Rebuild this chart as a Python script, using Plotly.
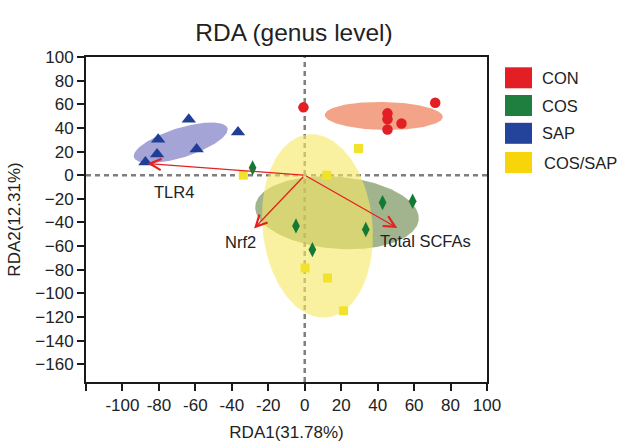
import numpy as np
import plotly.graph_objects as go

# ---------------- data ----------------
groups = ["CON", "COS", "SAP", "COS/SAP"]

CON_x = [-0.7, 71.6, 45.4, 45.4, 45.4, 53.1]
CON_y = [57.4, 61.3, 52.3, 47.3, 38.7, 43.8]
COS_x = [-28.6, 42.7, 59.2, -4.8, 33.5, 4.2]
COS_y = [6.2, -23.2, -22.0, -42.9, -46.0, -63.0]
SAP_x = [-63.6, -36.6, -80.4, -59.3, -81.0, -87.4]
SAP_y = [47.2, 36.4, 30.2, 22.0, 17.8, 11.0]
CS_x = [-33.7, 12.1, 29.5, 0.2, 12.5, 21.3]
CS_y = [0.0, 0.0, 22.6, -78.5, -87.0, -114.7]

env_names = ["TLR4", "Nrf2", "Total SCFAs"]
env_x = [-86.3, -27.8, 50.8]
env_y = [9.9, -45.1, -44.6]

x_ticks = list(range(-120, 101, 20))
x_ticktext = ["" if v == -120 else str(v) for v in x_ticks]
y_ticks = list(range(-160, 101, 20))

# ---------------- styling ----------------
W, H = 619, 442
ML, MR, MT, MB = 86, 132, 57, 60
XR = [-120, 100]
YR = [-175, 100]
PW, PH = W - ML - MR, H - MT - MB
KX = PW / (XR[1] - XR[0])   # px per x unit
KY = PH / (YR[1] - YR[0])   # px per y unit

FONT = "Liberation Sans, Arial, sans-serif"
TXT = "#222222"

point_style = {
    "CON": dict(symbol="circle", size=10.5, color="#E31E24"),
    "COS": dict(symbol="diamond-tall", size=11, color="#137A36"),
    "SAP": dict(symbol="triangle-up", size=12.5, color="#213E97"),
    "COS/SAP": dict(symbol="square", size=9, color="#F2E32A"),
}
legend_colors = {"CON": "#E31E24", "COS": "#1E7F3E", "SAP": "#24449C", "COS/SAP": "#F8D40A"}
ellipse_fill = {
    "CON": "rgba(238,125,85,0.70)",
    "SAP": "rgba(90,90,180,0.55)",
    "COS": "rgba(95,125,60,0.58)",
    "COS/SAP": "rgba(245,232,100,0.62)",
}
# ellipse semi-axes (screen px) and rotation (deg, counter-clockwise on screen)
ell_a = {"CON": 59, "SAP": 49, "COS": 82, "COS/SAP": 55}
ell_b = {"CON": 14, "SAP": 14.7, "COS": 36, "COS/SAP": 92}
ell_ang = {"CON": -1.0, "SAP": 17.4, "COS": -4.7, "COS/SAP": 5.7}

data = {
    "CON": (CON_x, CON_y),
    "COS": (COS_x, COS_y),
    "SAP": (SAP_x, SAP_y),
    "COS/SAP": (CS_x, CS_y),
}

fig = go.Figure()

# ellipses (centered on group means)
for g in ["CON", "SAP", "COS", "COS/SAP"]:
    xs, ys = data[g]
    cx, cy = float(np.mean(xs)), float(np.mean(ys))
    t = np.linspace(0, 2 * np.pi, 200)
    th = np.deg2rad(ell_ang[g])
    dx = ell_a[g] * np.cos(t) * np.cos(th) - ell_b[g] * np.sin(t) * np.sin(th)
    dy = ell_a[g] * np.cos(t) * np.sin(th) + ell_b[g] * np.sin(t) * np.cos(th)
    fig.add_trace(go.Scatter(
        x=cx + dx / KX, y=cy + dy / KY, mode="lines", fill="toself",
        fillcolor=ellipse_fill[g], line=dict(width=0), hoverinfo="skip",
        showlegend=False,
    ))

# points
for g in ["COS/SAP", "COS", "SAP", "CON"]:
    xs, ys = data[g]
    st = point_style[g]
    fig.add_trace(go.Scatter(
        x=xs, y=ys, mode="markers", name=g, showlegend=False,
        marker=dict(symbol=st["symbol"], size=st["size"], color=st["color"], line=dict(width=0)),
    ))

# zero reference lines
dash_line = dict(color="#7F7F7F", width=2.5, dash="5px,4px")
fig.add_shape(type="line", xref="x", yref="paper", x0=0, x1=0, y0=0, y1=1, line=dash_line, layer="below")
fig.add_shape(type="line", xref="paper", yref="y", x0=0, x1=1, y0=0, y1=0, line=dash_line, layer="below")

# environmental arrows
for name, ex, ey in zip(env_names, env_x, env_y):
    fig.add_annotation(
        x=ex, y=ey, ax=0, ay=0, xref="x", yref="y", axref="x", ayref="y",
        text="", showarrow=True, arrowhead=5, arrowsize=1.7, arrowwidth=1.3,
        arrowcolor="#E5211E",
    )

label_dx = {"TLR4": 14.5, "Nrf2": -7.2, "Total SCFAs": 15.7}
label_dy = {"TLR4": -24.0, "Nrf2": -11.4, "Total SCFAs": -11.4}
for name, ex, ey in zip(env_names, env_x, env_y):
    fig.add_annotation(
        x=ex + label_dx[name], y=ey + label_dy[name], xref="x", yref="y",
        text=name, showarrow=False, font=dict(family=FONT, size=16.5, color=TXT),
        xanchor="center", yanchor="middle",
    )

# custom legend (right side)
def px_x(p):
    return (p - ML) / PW

def px_y(p):
    return (H - MB - p) / PH

leg_rows = [77.8, 105.5, 133.3, 162.5]
for g, yc in zip(groups, leg_rows):
    fig.add_shape(type="rect", xref="paper", yref="paper",
                  x0=px_x(505), x1=px_x(532), y0=px_y(yc + 10.5), y1=px_y(yc - 10.5),
                  fillcolor=legend_colors[g], line=dict(width=0))
    fig.add_annotation(xref="paper", yref="paper", x=px_x(540 if g != "COS/SAP" else 541.5),
                       y=px_y(yc), text=g, showarrow=False, xanchor="left", yanchor="middle",
                       font=dict(family=FONT, size=16.5, color=TXT))

axis_common = dict(
    showline=True, linecolor="#1A1A1A", linewidth=2, mirror=True,
    ticks="outside", ticklen=7, tickwidth=2, tickcolor="#1A1A1A",
    showgrid=False, zeroline=False, automargin=False,
    tickfont=dict(family=FONT, size=17, color=TXT),
)

fig.update_layout(
    width=W, height=H,
    margin=dict(l=ML, r=MR, t=MT, b=MB, autoexpand=False),
    paper_bgcolor="white", plot_bgcolor="white",
    title=dict(text="RDA (genus level)", x=294 / W, xref="container", xanchor="center",
               y=1 - 32 / H, yref="container", yanchor="middle",
               font=dict(family=FONT, size=24.5, color=TXT)),
    xaxis=dict(range=XR, tickvals=x_ticks, ticktext=x_ticktext,
               title=dict(text="RDA1(31.78%)", standoff=17, font=dict(family=FONT, size=17, color=TXT)),
               **axis_common),
    yaxis=dict(range=YR, tickvals=y_ticks,
               title=dict(text="RDA2(12.31%)", standoff=10, font=dict(family=FONT, size=17, color=TXT)),
               **axis_common),
    showlegend=False,
)

fig.write_html("out.html", config={"displayModeBar": False},
               post_script="document.body.style.margin='0';")
